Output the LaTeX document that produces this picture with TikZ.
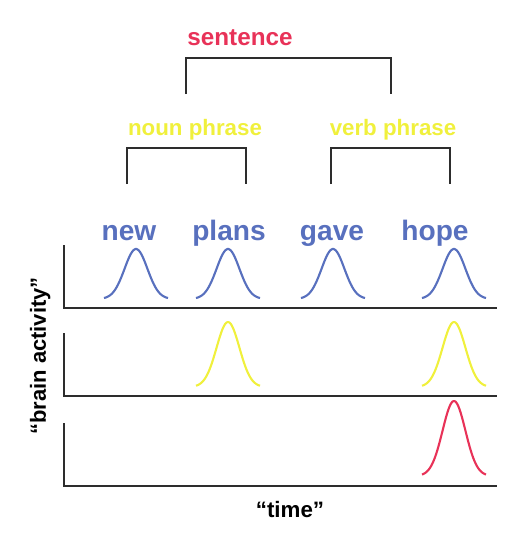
\documentclass[tikz,border=0pt]{standalone}
\usepackage{fontspec}
\setmainfont{Liberation Sans}
\definecolor{wordblue}{RGB}{88,112,190}
\definecolor{phraseyellow}{RGB}{240,240,60}
\definecolor{sentred}{RGB}{232,50,88}
\definecolor{linegray}{RGB}{45,45,45}
\tikzset{
  bracket/.style={draw=linegray, line width=1.3pt},
  axis/.style={draw=linegray, line width=1.6pt},
  bump/.style={line width=1.2pt, samples=60, domain=-32:32, smooth},
  label/.style={anchor=base, inner sep=0pt, font=\bfseries}
}
\begin{document}
\begin{tikzpicture}[x=0.02cm, y=-0.02cm]
    \useasboundingbox (0,0) rectangle (527,538);
    % Sentence
    \node[label, text=sentred, font=\bfseries\fontsize{13.8}{16}\selectfont] (sent) at (240,45) {sentence};
    \coordinate (sl) at (186,94);
    \coordinate (sr) at (391,94);
    \draw[bracket] (sl) -- ++(0,-36) -| (sr);
    % Phrases
    \node[label, text=phraseyellow, font=\bfseries\fontsize{12.7}{15}\selectfont] (np) at (195,135) {noun phrase};
    \node[label, text=phraseyellow, font=\bfseries\fontsize{12.7}{15}\selectfont] (vp) at (393,135) {verb phrase};
    \coordinate (npl) at (127,184);
    \coordinate (npr) at (246,184);
    \coordinate (vpl) at (331,184);
    \coordinate (vpr) at (450,184);
    \draw[bracket] (npl) -- ++(0,-36) -| (npr);
    \draw[bracket] (vpl) -- ++(0,-36) -| (vpr);
    % Words
    \node[label, text=wordblue, font=\bfseries\fontsize{16}{19}\selectfont] (new) at (129,240) {new};
    \node[label, text=wordblue, font=\bfseries\fontsize{16}{19}\selectfont] (plans) at (229,240) {plans};
    \node[label, text=wordblue, font=\bfseries\fontsize{16}{19}\selectfont] (gave) at (332,240) {gave};
    \node[label, text=wordblue, font=\bfseries\fontsize{16}{19}\selectfont] (hope) at (435,240) {hope};
    % Axes
    \draw[axis] (64,245) -- (64,308) -- (497,308);
    \draw[axis] (64,333) -- (64,396) -- (497,396);
    \draw[axis] (64,423) -- (64,486) -- (497,486);
    % Activity
    \foreach \c in {136,228,333,454}
      \draw[bump, wordblue] plot ({\c+\x}, {299-50*exp(-((\x)^2)/260)});
    \foreach \c in {228,454}
      \draw[bump, phraseyellow] plot ({\c+\x}, {387-65*exp(-((\x)^2)/260)});
    \draw[bump, sentred] plot ({454+\x}, {476-75*exp(-((\x)^2)/260)});
    % Axis labels
    \node[label, rotate=90, font=\bfseries\fontsize{12.5}{15}\selectfont] (act) at (46,356) {“brain activity”};
    \node[label, font=\bfseries\fontsize{12.7}{15}\selectfont] (time) at (290,517) {“time”};
\end{tikzpicture}
\end{document}
